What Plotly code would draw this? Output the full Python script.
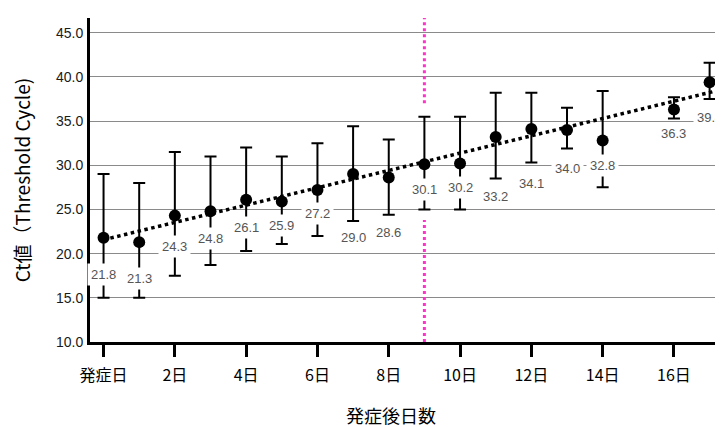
import plotly.graph_objects as go

# ---- data ----
days = [0, 1, 2, 3, 4, 5, 6, 7, 8, 9, 10, 11, 12, 13, 14, 16, 17]
ct_mean = [21.8, 21.3, 24.3, 24.8, 26.1, 25.9, 27.2, 29.0, 28.6, 30.1, 30.2,
           33.2, 34.1, 34.0, 32.8, 36.3, 39.4]
ct_upper = [29.0, 28.0, 31.5, 31.0, 32.0, 31.0, 32.5, 34.4, 32.9, 35.5, 35.5,
            38.2, 38.2, 36.5, 38.4, 37.7, 41.6]
ct_lower = [15.0, 15.0, 17.5, 18.7, 20.3, 21.1, 22.0, 23.7, 24.4, 25.0, 25.0,
            28.5, 30.3, 31.9, 27.5, 35.3, 37.5]
tick_days = [0, 2, 4, 6, 8, 10, 12, 14, 16]
tick_text = ["発症日", "2日", "4日", "6日", "8日", "10日", "12日", "14日", "16日"]
y_ticks = [10, 15, 20, 25, 30, 35, 40, 45]
marker_day = 9
# linear trendline
trend_intercept = 21.57
trend_slope = 0.98

# ---- layout / style settings ----
label_offsets_px = [37, 36, 31, 27, 28, 24, 24, 63, 55, 25, 24, 60, 54, 39, 25, 24, 35]
x_range = [-0.38, 17.6]
y_range = [10, 46.66]
marker_gap = (23.8, 37.0)

err_plus = [u - m for u, m in zip(ct_upper, ct_mean)]
err_minus = [m - l for m, l in zip(ct_mean, ct_lower)]

trend_x = [days[0], x_range[1]]
trend_y = [trend_intercept + trend_slope * x for x in trend_x]

fig = go.Figure()

fig.add_trace(go.Scatter(
    x=trend_x, y=trend_y, mode="lines",
    line=dict(color="black", width=3.5, dash="dot"),
    hoverinfo="skip", showlegend=False))

fig.add_trace(go.Scatter(
    x=days, y=ct_mean, mode="markers",
    marker=dict(color="black", size=12),
    error_y=dict(type="data", symmetric=False, array=err_plus,
                 arrayminus=err_minus, color="black", thickness=2, width=6),
    showlegend=False))

# pink reference line at day 9 (with gap)
for y0, y1 in [(y_range[0], marker_gap[0]), (marker_gap[1], y_range[1])]:
    fig.add_shape(type="line", xref="x", yref="y", x0=marker_day, x1=marker_day,
                  y0=y0, y1=y1, line=dict(color="#ff33cc", width=3, dash="dot"))

for d, m, off in zip(days, ct_mean, label_offsets_px):
    fig.add_annotation(x=d, y=m, text=f"{m:.1f}", showarrow=False,
                       yshift=-off, bgcolor="white", borderpad=3,
                       font=dict(family="Liberation Sans Narrow, Liberation Sans, Arial",
                                 size=13, color="#555555"))

fig.add_annotation(xref="paper", yref="paper", x=0.4696, y=-0.225,
                   text="発症後日数", showarrow=False, yanchor="middle",
                   font=dict(family="Noto Sans CJK JP", size=18, color="black"))

fig.update_layout(
    width=723, height=427,
    margin=dict(l=82, r=0, t=10, b=93),
    paper_bgcolor="white", plot_bgcolor="white",
    xaxis=dict(range=x_range, tickvals=tick_days, ticktext=tick_text,
               showgrid=False, zeroline=False, showline=True,
               linecolor="black", linewidth=3, ticks="outside", ticklen=12,
               tickwidth=3, tickcolor="black", ticklabelstandoff=5,
               tickfont=dict(family="Noto Sans CJK JP", size=16, color="black")),
    yaxis=dict(range=y_range, tickvals=y_ticks, tickformat=".1f",
               showgrid=True, gridcolor="#8a8a8a", gridwidth=1,
               zeroline=False, showline=True, linecolor="black", linewidth=3,
               ticks="", ticklabelstandoff=1,
               tickfont=dict(family="Liberation Sans, Arial", size=14, color="#1a1a1a"),
               title=dict(text="Ct値（Threshold Cycle)", standoff=31,
                          font=dict(family="Noto Sans CJK JP, Liberation Sans", size=19,
                                    color="black"))),
)

fig.write_html("out.html")
